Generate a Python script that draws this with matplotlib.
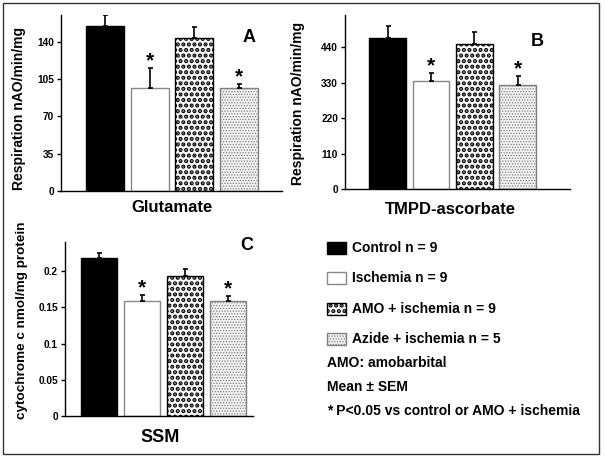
import matplotlib
matplotlib.use("Agg")
import matplotlib.pyplot as plt
from matplotlib.patches import Rectangle
from matplotlib.ticker import FuncFormatter

plt.rcParams['font.family'] = ['Liberation Sans', 'DejaVu Sans']
plt.rcParams['font.weight'] = 'bold'

groups = ['Control', 'Ischemia', 'AMO + ischemia', 'Azide + ischemia']
group_n = [9, 9, 9, 5]
significant = [False, True, False, True]

glutamate_mean = [155, 97, 143.5, 97]
glutamate_sem = [10, 18, 10, 3.5]
tmpd_mean = [468, 336, 450, 322]
tmpd_sem = [39, 25, 37, 29]
ssm_mean = [0.2175, 0.159, 0.1925, 0.159]
ssm_sem = [0.008, 0.0085, 0.0105, 0.007]

notes = ['AMO: amobarbital', 'Mean \u00b1 SEM', '* P<0.05 vs control or AMO + ischemia']

# fill, edge, hatch, hatch line width
styles = [
    ('black', 'black', None, 1.0),
    ('white', '#888888', None, 1.0),
    ('white', 'black', '...', 2.1),
    ('#f2f2f2', '#808080', '......', 0.6),
]

W, H = 605, 458
fig = plt.figure(figsize=(W / 100, H / 100), dpi=100)


def px_axes(left, top, right, bottom):
    return fig.add_axes([left / W, 1 - bottom / H, (right - left) / W, (bottom - top) / H])


def draw_bars(ax, means, sems, xlim, ylim, ticks, fmt=None):
    xs = list(range(len(means)))
    for x, m, s, (fc, ec, hatch, hlw) in zip(xs, means, sems, styles):
        plt.rcParams['hatch.linewidth'] = hlw
        ax.bar(x, m, width=0.85, facecolor=fc, edgecolor=ec, hatch=hatch, linewidth=1.0, zorder=2)
    ax.errorbar(xs, means, yerr=[[0] * len(sems), sems], fmt='none', ecolor='black',
                elinewidth=1.2, capsize=1.8, capthick=1.2, zorder=3)
    for x, m, s, sig in zip(xs, means, sems, significant):
        if sig:
            ax.annotate('*', (x, m + s), xytext=(0, 5), textcoords='offset points',
                        ha='center', va='center', fontsize=15, fontweight='bold')
    ax.set_xlim(*xlim)
    ax.set_ylim(*ylim)
    ax.set_yticks(ticks)
    if fmt:
        ax.yaxis.set_major_formatter(FuncFormatter(fmt))
    ax.set_xticks([])
    for side in ['top', 'right']:
        ax.spines[side].set_visible(False)
    for side in ['left', 'bottom']:
        ax.spines[side].set_linewidth(1.0)
    ax.tick_params(axis='y', direction='out', length=3, width=1.0, pad=2, labelsize=7.3)
    for lab in ax.get_yticklabels():
        lab.set_fontweight('bold')
    ax.patch.set_alpha(0)


ax_a = px_axes(61, 15, 282, 191)
draw_bars(ax_a, glutamate_mean, glutamate_sem, (-0.985, 3.96), (0, 165), [0, 35, 70, 105, 140])
ax_a.set_ylabel('Respiration nAO/min/mg', fontsize=10, fontweight='bold')
ax_a.yaxis.set_label_coords(-0.16, 0.47)

ax_b = px_axes(345, 15, 570, 189)
draw_bars(ax_b, tmpd_mean, tmpd_sem, (-0.98, 4.2), (0, 540), [0, 110, 220, 330, 440])
ax_b.set_ylabel('Respiration nAO/min/mg', fontsize=10, fontweight='bold')
ax_b.yaxis.set_label_coords(-0.178, 0.49)

ax_c = px_axes(65, 242, 253, 416)
draw_bars(ax_c, ssm_mean, ssm_sem, (-0.8, 3.59), (0, 0.24), [0, 0.05, 0.1, 0.15, 0.2],
          fmt=lambda v, p: '%g' % v)
ax_c.set_ylabel('cytochrome c nmol/mg protein', fontsize=9.7, fontweight='bold')
ax_c.yaxis.set_label_coords(-0.197, 0.553)


def fig_text(x, y, s, **kw):
    fig.text(x / W, 1 - y / H, s, fontweight='bold', **kw)


fig_text(172, 207, 'Glutamate', fontsize=12, ha='center', va='center')
fig_text(450, 209, 'TMPD-ascorbate', fontsize=12, ha='center', va='center')
fig_text(160, 438, 'SSM', fontsize=13, ha='center', va='center')
fig_text(249, 37, 'A', fontsize=13, ha='center', va='center')
fig_text(537, 42, 'B', fontsize=13, ha='center', va='center')
fig_text(247, 245, 'C', fontsize=13, ha='center', va='center')

# legend
row_y = [248, 277.5, 309, 339]
for y, name, n, (fc, ec, hatch, hlw) in zip(row_y, groups, group_n, styles):
    plt.rcParams['hatch.linewidth'] = hlw
    fig.add_artist(Rectangle((327 / W, 1 - (y + 6) / H), 19 / W, 12 / H, transform=fig.transFigure,
                             facecolor=fc, edgecolor=ec, hatch=hatch, linewidth=1.0))
    fig_text(352, y, f'{name} n = {n}', fontsize=10, ha='left', va='center')

for y, note in zip([363, 387, 411], notes):
    fig_text(327, y, note, fontsize=10, ha='left', va='center')

fig.add_artist(Rectangle((3 / W, 1 - 454 / H), 596 / W, 451 / H, transform=fig.transFigure,
                         fill=False, edgecolor='#333333', linewidth=1.0))

fig.savefig('out.png', dpi=100)
